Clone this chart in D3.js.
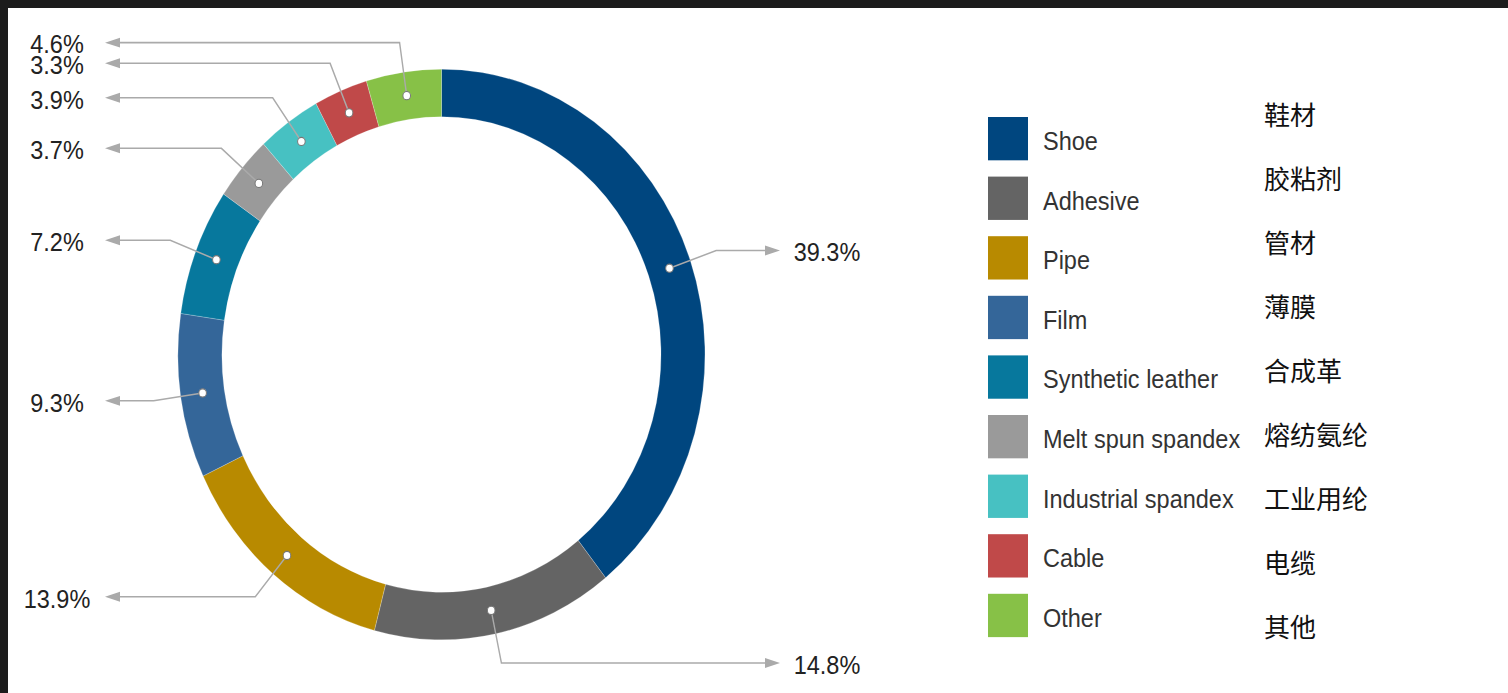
<!DOCTYPE html>
<html>
<head>
<meta charset="utf-8">
<script src="https://cdn.jsdelivr.net/npm/d3@7"></script>
<style>
  html, body { margin: 0; padding: 0; background: #1c1c1c; }
  svg { display: block; }
</style>
</head>
<body>
<div id="chart"></div>
<script>
// 数据
const categories = ["Shoe", "Adhesive", "Pipe", "Film", "Synthetic leather",
  "Melt spun spandex", "Industrial spandex", "Cable", "Other"]
const categoriesZh = ["鞋材", "胶粘剂", "管材", "薄膜", "合成革", "熔纺氨纶", "工业用纶", "电缆", "其他"]
const shares = [39.3, 14.8, 13.9, 9.3, 7.2, 3.7, 3.9, 3.3, 4.6]
const colors = ["#00467f", "#646464", "#b88a00", "#346699", "#07789d",
  "#9a9a9a", "#47c1c2", "#c04949", "#87c147"]

const width = 1508, height = 693
const sy = 1.083   // 原图整体被纵向拉伸

const svg = d3.select("#chart").append("svg")
  .attr("width", width)
  .attr("height", height)

svg.append("rect")
  .attr("x", 8).attr("y", 8)
  .attr("width", width - 8).attr("height", height - 8)
  .attr("fill", "#fff")

const g = svg.append("g").attr("transform", `scale(1,${sy})`)

const cx = 441.5, cy = 354.5 / sy
const rOuter = 263.5, rInner = 219.5, rBend = 291

const pie = d3.pie().sort(null).value(d => d)
const arcs = pie(shares)

const arc = d3.arc().innerRadius(rInner).outerRadius(rOuter)
const bendArc = d3.arc().innerRadius(rBend).outerRadius(rBend)

const ring = g.append("g").attr("transform", `translate(${cx},${cy})`)

ring.selectAll("path.slice")
  .data(arcs)
  .join("path")
  .attr("class", "slice")
  .attr("d", arc)
  .attr("fill", (d, i) => colors[i])
  .attr("stroke", "#fff")
  .attr("stroke-opacity", 0.35)
  .attr("stroke-width", 0.6)

// 引导线 + 箭头
const leftTip = 105 - cx, rightTip = 780 - cx
const leaders = ring.selectAll("g.leader")
  .data(arcs)
  .join("g")
  .attr("class", "leader")

leaders.append("polyline")
  .attr("fill", "none")
  .attr("stroke", "#aaa")
  .attr("stroke-width", 1.4)
  .attr("points", d => {
    const p0 = arc.centroid(d)
    const p1 = bendArc.centroid(d)
    const right = (d.startAngle + d.endAngle) / 2 < Math.PI
    const x2 = right ? rightTip - 12 : leftTip + 12
    return [p0, p1, [x2, p1[1]]].map(p => p.join(",")).join(" ")
  })

leaders.append("polygon")
  .attr("fill", "#aaa")
  .attr("points", d => {
    const y = bendArc.centroid(d)[1]
    const right = (d.startAngle + d.endAngle) / 2 < Math.PI
    const tip = right ? rightTip : leftTip
    const base = right ? tip - 15 : tip + 15
    return `${tip},${y} ${base},${y - 4.6} ${base},${y + 4.6}`
  })

leaders.append("circle")
  .attr("cx", d => arc.centroid(d)[0])
  .attr("cy", d => arc.centroid(d)[1])
  .attr("r", 3.8)
  .attr("fill", "#fff")
  .attr("stroke", "#777")
  .attr("stroke-width", 1)

leaders.append("text")
  .attr("x", d => ((d.startAngle + d.endAngle) / 2 < Math.PI ? 827 : 57) - cx)
  .attr("y", d => bendArc.centroid(d)[1] + 10)
  .attr("text-anchor", "middle")
  .attr("font-family", "'Liberation Sans', Arial, sans-serif")
  .attr("font-size", 23.5)
  .attr("fill", "#222")
  .text(d => d.data.toFixed(1) + "%")

// 图例
const legendTop = 117 / sy, legendStep = 59.6 / sy
const legend = g.selectAll("g.legend")
  .data(categories)
  .join("g")
  .attr("class", "legend")
  .attr("transform", (d, i) => `translate(988,${legendTop + i * legendStep})`)

legend.append("rect")
  .attr("width", 40)
  .attr("height", 40)
  .attr("fill", (d, i) => colors[i])

legend.append("text")
  .attr("x", 55)
  .attr("y", 30.5)
  .attr("font-family", "'Liberation Sans', Arial, sans-serif")
  .attr("font-size", 23.5)
  .attr("fill", "#333")
  .text(d => d)

// 中文标注（未拉伸）
svg.selectAll("text.zh")
  .data(categoriesZh)
  .join("text")
  .attr("class", "zh")
  .attr("x", 1264)
  .attr("y", (d, i) => 115 + i * 64 + 10)
  .attr("font-family", "'Noto Sans CJK SC', sans-serif")
  .attr("font-size", 26)
  .attr("fill", "#111")
  .text(d => d)
</script>
</body>
</html>
